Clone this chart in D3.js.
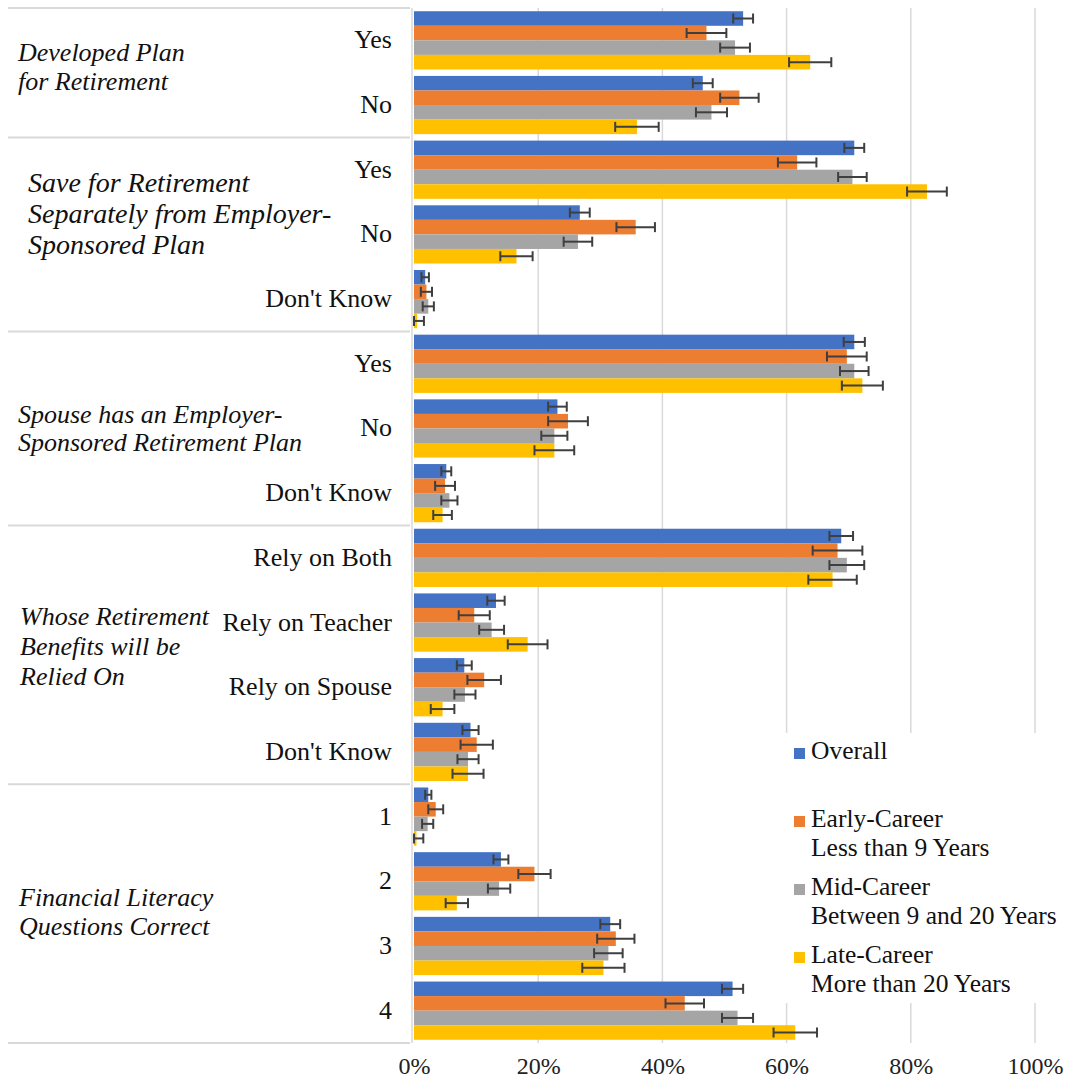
<!DOCTYPE html>
<html>
<head>
<meta charset="utf-8">
<script src="https://cdn.jsdelivr.net/npm/d3@7"></script>
<style>
  html, body { margin: 0; padding: 0; background: #fff; }
  svg { display: block; }
</style>
</head>
<body>
<svg id="chart" width="1066" height="1085"></svg>
<script>
// ---- data ----
const groupTitles = [
  ["Developed Plan", "for Retirement"],
  ["Save for Retirement", "Separately from Employer-", "Sponsored Plan"],
  ["Spouse has an Employer-", "Sponsored Retirement Plan"],
  ["Whose Retirement", "Benefits will be", "Relied On"],
  ["Financial Literacy", "Questions Correct"]
];
const groupCategories = [
  ["Yes", "No"],
  ["Yes", "No", "Don't Know"],
  ["Yes", "No", "Don't Know"],
  ["Rely on Both", "Rely on Teacher", "Rely on Spouse", "Don't Know"],
  ["1", "2", "3", "4"]
];
const seriesNames = ["Overall", "Early-Career", "Mid-Career", "Late-Career"];
const seriesSubtitles = ["", "Less than 9 Years", "Between 9 and 20 Years", "More than 20 Years"];

// percentages, one value per category (top to bottom)
const overall    = [53.0, 46.5, 70.9, 26.7, 1.8, 70.9, 23.1, 5.2, 68.8, 13.2, 8.1, 9.1, 2.3, 14.0, 31.6, 51.3];
const overallErr = [1.6, 1.6, 1.6, 1.6, 0.6, 1.7, 1.5, 0.8, 1.9, 1.4, 1.2, 1.3, 0.5, 1.2, 1.6, 1.7];
const early      = [47.1, 52.4, 61.7, 35.7, 2.0, 69.7, 24.8, 5.0, 68.2, 9.7, 11.3, 10.1, 3.5, 19.4, 32.5, 43.6];
const earlyErr   = [3.2, 3.1, 3.1, 3.1, 0.9, 3.2, 3.2, 1.6, 4.0, 2.5, 2.7, 2.6, 1.2, 2.6, 3.0, 3.1];
const mid        = [51.7, 47.9, 70.6, 26.4, 2.3, 70.9, 22.6, 5.7, 69.7, 12.5, 8.2, 8.7, 2.2, 13.7, 31.3, 52.1];
const midErr     = [2.4, 2.5, 2.3, 2.3, 0.9, 2.3, 2.1, 1.3, 2.8, 2.0, 1.7, 1.7, 0.9, 1.8, 2.3, 2.5];
const late       = [63.8, 35.9, 82.6, 16.5, 0.5, 72.2, 22.6, 4.6, 67.4, 18.3, 4.6, 8.7, 0.4, 6.9, 30.5, 61.4];
const lateErr    = [3.4, 3.5, 3.2, 2.6, 1.1, 3.3, 3.2, 1.5, 3.9, 3.2, 1.9, 2.5, 1.1, 1.8, 3.4, 3.5];

const tickValues = [0, 20, 40, 60, 80, 100];

// ---- styling / layout ----
const colors = ["#4472C4", "#ED7D31", "#A5A5A5", "#FFC000"];
const serif = "'Liberation Serif', 'Times New Roman', serif";
const gridColor = "#d9d9d9";
const errColor = "#3f3f3f";

const plotTop = 8, plotBottom = 1043;
const xLeft = 414, xRight = 1035;
const catLabelRight = 392;
const sepLeft = 8, sepRight = 410;

// group title placement: x, first baseline offset from group top, line height, font size
const titleLayout = [
  { x: 18, dy: 53, lh: 29, size: 26 },
  { x: 28, dy: 55, lh: 31, size: 28 },
  { x: 18, dy: 92, lh: 28, size: 26 },
  { x: 20, dy: 99, lh: 30, size: 26 },
  { x: 19, dy: 122, lh: 29, size: 26 }
];

const seriesValues = [overall, early, mid, late];
const seriesErrors = [overallErr, earlyErr, midErr, lateErr];

const categoryLabels = groupCategories.flat();
const nCat = categoryLabels.length;

const svg = d3.select("#chart");

const x = d3.scaleLinear().domain([0, 100]).range([xLeft, xRight]);
const y = d3.scaleBand()
  .domain(d3.range(nCat))
  .range([plotTop, plotBottom])
  .paddingInner(0.1)
  .paddingOuter(0.05);
const ySub = d3.scaleBand()
  .domain(d3.range(seriesNames.length))
  .range([0, y.bandwidth()]);

// gridlines
svg.append("g")
  .selectAll("line")
  .data(tickValues.filter(v => v > 0))
  .join("line")
  .attr("x1", d => x(d)).attr("x2", d => x(d))
  .attr("y1", plotTop).attr("y2", plotBottom)
  .attr("stroke", gridColor).attr("stroke-width", 1.5);

// vertical category axis line
svg.append("line")
  .attr("x1", 412).attr("x2", 412)
  .attr("y1", plotTop).attr("y2", plotBottom)
  .attr("stroke", gridColor).attr("stroke-width", 1.5);

// group separators in the category axis
const groupStarts = [];
let acc = 0;
groupCategories.forEach(g => { groupStarts.push(acc); acc += g.length; });
const boundaryY = i => plotTop + i * y.step();
const sepIdx = groupStarts.concat([nCat]);
svg.append("g")
  .selectAll("line")
  .data(sepIdx)
  .join("line")
  .attr("x1", sepLeft).attr("x2", sepRight)
  .attr("y1", d => boundaryY(d)).attr("y2", d => boundaryY(d))
  .attr("stroke", gridColor).attr("stroke-width", 2);

// x axis labels
const xAxis = d3.axisBottom(x)
  .tickValues(tickValues)
  .tickFormat(d => d + "%")
  .tickSize(0)
  .tickPadding(0);
const gx = svg.append("g")
  .attr("transform", `translate(0, ${plotBottom})`)
  .call(xAxis);
gx.select(".domain").remove();
gx.selectAll("text")
  .attr("dy", null)
  .attr("y", 31)
  .style("font-family", serif)
  .style("font-size", "24px")
  .attr("fill", "#222");

// bars
const barRows = [];
seriesValues.forEach((vals, s) => {
  vals.forEach((v, i) => barRows.push({ s, i, v, e: seriesErrors[s][i] }));
});

svg.append("g")
  .selectAll("rect")
  .data(barRows)
  .join("rect")
  .attr("x", x(0))
  .attr("y", d => y(d.i) + ySub(d.s))
  .attr("width", d => x(d.v) - x(0))
  .attr("height", ySub.bandwidth())
  .attr("fill", d => colors[d.s]);

// error bars
const eb = svg.append("g")
  .selectAll("g")
  .data(barRows)
  .join("g")
  .attr("transform", d => `translate(0, ${y(d.i) + ySub(d.s) + ySub.bandwidth() / 2})`)
  .attr("stroke", errColor)
  .attr("stroke-width", 2);
eb.append("line")
  .attr("x1", d => x(Math.max(0, d.v - d.e)))
  .attr("x2", d => x(d.v + d.e));
eb.append("line")
  .attr("x1", d => x(Math.max(0, d.v - d.e))).attr("x2", d => x(Math.max(0, d.v - d.e)))
  .attr("y1", -5).attr("y2", 5);
eb.append("line")
  .attr("x1", d => x(d.v + d.e)).attr("x2", d => x(d.v + d.e))
  .attr("y1", -5).attr("y2", 5);

// category labels
svg.append("g")
  .selectAll("text")
  .data(categoryLabels)
  .join("text")
  .attr("x", catLabelRight)
  .attr("y", (d, i) => y(i) + y.bandwidth() / 2 + 8)
  .attr("text-anchor", "end")
  .style("font-family", serif)
  .style("font-size", "26px")
  .attr("fill", "#111")
  .text(d => d);

// group titles
groupTitles.forEach((lines, g) => {
  const L = titleLayout[g];
  const top = boundaryY(groupStarts[g]);
  const t = svg.append("text")
    .style("font-family", serif)
    .style("font-style", "italic")
    .style("font-size", L.size + "px")
    .attr("fill", "#111");
  lines.forEach((ln, k) => {
    t.append("tspan")
      .attr("x", L.x)
      .attr("y", top + L.dy + k * L.lh)
      .text(ln);
  });
});

// legend
const legend = svg.append("g");
legend.append("rect")
  .attr("x", 783).attr("y", 733)
  .attr("width", 257).attr("height", 270)
  .attr("fill", "#fff");
const legendY = [759, 827, 895, 963];
const legendRows = legend.selectAll("g.item")
  .data(seriesNames)
  .join("g")
  .attr("class", "item");
legendRows.append("rect")
  .attr("x", 794)
  .attr("y", (d, i) => legendY[i] - 11)
  .attr("width", 11).attr("height", 11)
  .attr("fill", (d, i) => colors[i]);
const lt = legendRows.append("text")
  .style("font-family", serif)
  .style("font-size", "25.5px")
  .attr("fill", "#111");
lt.append("tspan")
  .attr("x", 811)
  .attr("y", (d, i) => legendY[i])
  .text(d => d);
lt.filter((d, i) => seriesSubtitles[i] !== "")
  .append("tspan")
  .attr("x", 811)
  .attr("y", (d, i) => legendY[seriesNames.indexOf(d)] + 29)
  .text(d => seriesSubtitles[seriesNames.indexOf(d)]);
</script>
</body>
</html>
